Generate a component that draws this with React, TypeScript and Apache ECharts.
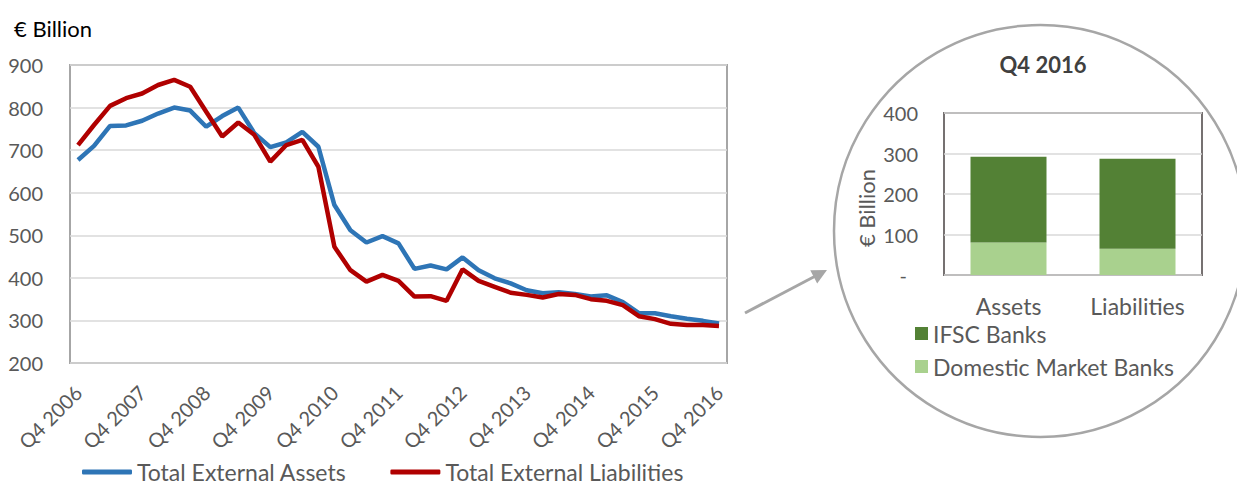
import React, { useEffect, useRef } from "react";
import * as echarts from "echarts";

const quarters = [
  "Q4 2006", "Q1 2007", "Q2 2007", "Q3 2007", "Q4 2007", "Q1 2008", "Q2 2008", "Q3 2008",
  "Q4 2008", "Q1 2009", "Q2 2009", "Q3 2009", "Q4 2009", "Q1 2010", "Q2 2010", "Q3 2010",
  "Q4 2010", "Q1 2011", "Q2 2011", "Q3 2011", "Q4 2011", "Q1 2012", "Q2 2012", "Q3 2012",
  "Q4 2012", "Q1 2013", "Q2 2013", "Q3 2013", "Q4 2013", "Q1 2014", "Q2 2014", "Q3 2014",
  "Q4 2014", "Q1 2015", "Q2 2015", "Q3 2015", "Q4 2015", "Q1 2016", "Q2 2016", "Q3 2016",
  "Q4 2016",
];

const totalExternalAssets = [
  677, 710, 757, 758, 769, 786, 800, 793, 755, 780, 800, 740, 707, 718, 743, 708,
  571, 512, 483, 498, 481, 421, 429, 420, 448, 418, 399, 387, 371, 364, 366, 362,
  356, 359, 343, 317, 317, 310, 304, 299, 293,
];

const totalExternalLiabilities = [
  712, 759, 804, 822, 833, 853, 865, 849, 790, 732, 765, 736, 673, 712, 724, 661,
  473, 418, 391, 407, 393, 356, 357, 346, 420, 393, 379, 365, 360, 354, 362, 360,
  350, 346, 336, 310, 303, 292, 289, 289, 287,
];

const insetCategories = ["Assets", "Liabilities"];
const domesticMarketBanks = [80, 65];
const ifscBanks = [212, 222];

const FONT = "Lato, 'Open Sans', sans-serif";
const GRAY = "#595959";

export default function App() {
  const ref = useRef<HTMLDivElement>(null);

  useEffect(() => {
    if (!ref.current) return;
    const chart = echarts.init(ref.current, null, { renderer: "svg" });

    // arrow geometry
    const tip = [827, 270];
    const start = [745, 313];
    const dx = tip[0] - start[0];
    const dy = tip[1] - start[1];
    const len = Math.sqrt(dx * dx + dy * dy);
    const ux = dx / len;
    const uy = dy / len;
    const headLen = 15;
    const headHalf = 7.5;
    const base = [tip[0] - ux * headLen, tip[1] - uy * headLen];
    const px = -uy;
    const py = ux;

    chart.setOption({
      animation: false,
      textStyle: { fontFamily: FONT },
      graphic: [
        {
          type: "text",
          x: 14,
          y: 28,
          style: {
            text: "€ Billion",
            fontSize: 22,
            fill: "#000",
            fontFamily: FONT,
            verticalAlign: "middle",
          },
        },
        {
          type: "circle",
          shape: { cx: 1040, cy: 231, r: 206 },
          style: { fill: "none", stroke: "#a6a6a6", lineWidth: 2.5 },
          z: -1,
        },
        {
          type: "line",
          shape: { x1: start[0], y1: start[1], x2: base[0] + ux * 2, y2: base[1] + uy * 2 },
          style: { stroke: "#a6a6a6", lineWidth: 3 },
        },
        {
          type: "polygon",
          shape: {
            points: [
              [tip[0], tip[1]],
              [base[0] + px * headHalf, base[1] + py * headHalf],
              [base[0] - px * headHalf, base[1] - py * headHalf],
            ],
          },
          style: { fill: "#a6a6a6" },
        },
        {
          type: "text",
          x: 1043,
          y: 64,
          style: {
            text: "Q4 2016",
            fontSize: 22,
            fontWeight: "bold",
            fill: "#404040",
            align: "center",
            verticalAlign: "middle",
            fontFamily: FONT,
          },
        },
        {
          type: "text",
          x: 866,
          y: 208,
          rotation: Math.PI / 2,
          style: {
            text: "€ Billion",
            fontSize: 22,
            fill: GRAY,
            align: "center",
            verticalAlign: "middle",
            fontFamily: FONT,
          },
        },
      ],
      legend: [
        {
          data: ["Total External Assets", "Total External Liabilities"],
          left: 82,
          top: 459,
          padding: 0,
          orient: "horizontal",
          icon: "roundRect",
          itemWidth: 50,
          itemHeight: 5,
          itemGap: 44,
          textStyle: {
            fontSize: 23,
            lineHeight: 26,
            color: GRAY,
            fontFamily: FONT,
          },
        },
        {
          data: ["IFSC Banks", "Domestic Market Banks"],
          left: 915,
          top: 322,
          padding: 0,
          orient: "vertical",
          icon: "rect",
          itemWidth: 13,
          itemHeight: 13,
          itemGap: 10,
          textStyle: { fontSize: 23, color: GRAY, fontFamily: FONT, lineHeight: 22 },
        },
      ],
      grid: [
        {
          left: 70,
          top: 65,
          width: 657,
          height: 298,
          show: true,
          borderColor: "#a6a6a6",
          borderWidth: 2,
          containLabel: false,
        },
        {
          left: 944,
          top: 113,
          width: 258,
          height: 162,
          show: true,
          borderColor: "#767171",
          borderWidth: 2,
          containLabel: false,
        },
      ],
      xAxis: [
        {
          type: "category",
          gridIndex: 0,
          data: quarters,
          boundaryGap: true,
          axisLine: { show: false },
          axisTick: { show: false },
          axisLabel: {
            interval: 3,
            rotate: 45,
            fontSize: 20,
            color: GRAY,
            margin: 26,
            fontFamily: FONT,
          },
        },
        {
          type: "category",
          gridIndex: 1,
          data: insetCategories,
          axisLine: { show: false },
          axisTick: { show: false },
          axisLabel: { fontSize: 23, lineHeight: 22, color: GRAY, margin: 20, fontFamily: FONT },
        },
      ],
      yAxis: [
        {
          type: "value",
          gridIndex: 0,
          min: 200,
          max: 900,
          interval: 100,
          axisLine: { show: false },
          axisTick: { show: false },
          axisLabel: { fontSize: 20, color: GRAY, margin: 27, fontFamily: FONT },
          splitLine: { lineStyle: { color: "#d9d9d9", width: 1.5 } },
        },
        {
          type: "value",
          gridIndex: 1,
          min: 0,
          max: 400,
          interval: 100,
          axisLine: { show: false },
          axisTick: { show: false },
          axisLabel: {
            fontSize: 20,
            color: GRAY,
            margin: 26,
            fontFamily: FONT,
            formatter: (v: number) => (v === 0 ? "{d|-}" : String(v)),
            rich: { d: { fontSize: 20, color: GRAY, padding: [0, 11, 0, 0], fontFamily: FONT } },
          },
          splitLine: { lineStyle: { color: "#d9d9d9", width: 1.5 } },
        },
      ],
      series: [
        {
          name: "Total External Assets",
          type: "line",
          xAxisIndex: 0,
          yAxisIndex: 0,
          data: totalExternalAssets,
          symbol: "none",
          lineStyle: { width: 4.5, color: "#2e75b6" },
          itemStyle: { color: "#2e75b6" },
          z: 2,
        },
        {
          name: "Total External Liabilities",
          type: "line",
          xAxisIndex: 0,
          yAxisIndex: 0,
          data: totalExternalLiabilities,
          symbol: "none",
          lineStyle: { width: 4.5, color: "#b00000" },
          itemStyle: { color: "#b00000" },
          z: 3,
        },
        {
          name: "Domestic Market Banks",
          type: "bar",
          xAxisIndex: 1,
          yAxisIndex: 1,
          stack: "banks",
          data: domesticMarketBanks,
          barWidth: 76,
          itemStyle: { color: "#a9d18e" },
        },
        {
          name: "IFSC Banks",
          type: "bar",
          xAxisIndex: 1,
          yAxisIndex: 1,
          stack: "banks",
          data: ifscBanks,
          barWidth: 76,
          itemStyle: { color: "#538135" },
        },
      ],
    });

    return () => chart.dispose();
  }, []);

  return (
    <div
      ref={ref}
      style={{ position: "fixed", left: 0, top: 0, width: 1237, height: 487, background: "#fff" }}
    />
  );
}
